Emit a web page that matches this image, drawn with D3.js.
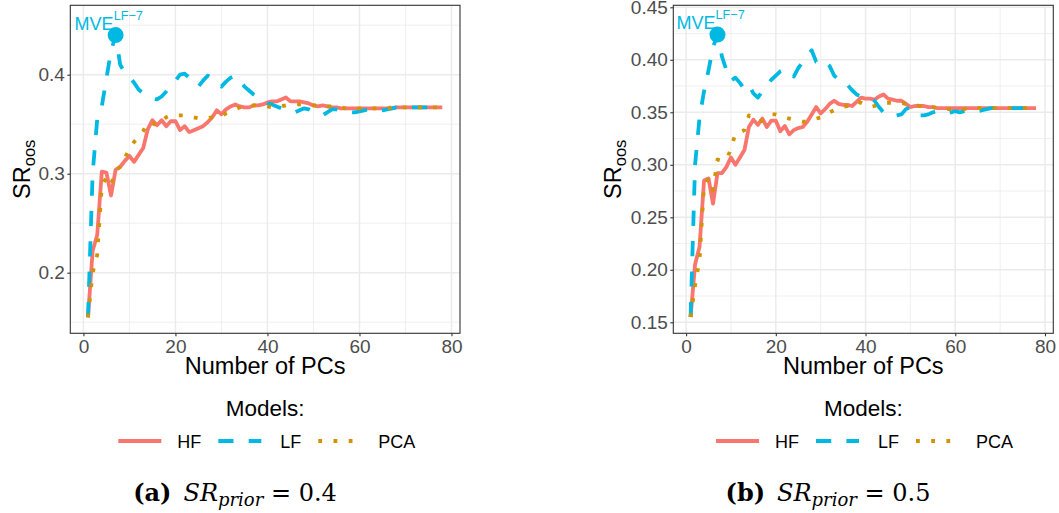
<!DOCTYPE html>
<html>
<head>
<meta charset="utf-8">
<script src="https://cdn.jsdelivr.net/npm/d3@7"></script>
<style>
  html, body { margin: 0; padding: 0; background: #ffffff; }
  svg { display: block; }
</style>
</head>
<body>
<svg id="fig" width="1059" height="513" font-family="Liberation Sans, Arial, Helvetica, sans-serif"></svg>
<script>
// Number of principal components on the x axis
const pcs = d3.range(1, 79);

// Out-of-sample Sharpe ratios, SR_prior = 0.4
const hfA = [0.155,0.222,0.238,0.302,0.301,0.278,0.304,0.307,0.313,0.318,
  0.312,0.319,0.326,0.345,0.354,0.349,0.354,0.348,0.353,0.353,
  0.344,0.348,0.342,0.344,0.346,0.348,0.352,0.357,0.364,0.360,
  0.365,0.368,0.370,0.368,0.367,0.367,0.369,0.369,0.370,0.372,
  0.373,0.373,0.375,0.377,0.373,0.373,0.373,0.372,0.371,0.369,
  0.368,0.369,0.368,0.367,0.367,0.366,0.366,0.366,0.366,0.366,
  0.366,0.366,0.366,0.366,0.366,0.366,0.366,0.367,0.367,0.367,
  0.367,0.367,0.367,0.367,0.367,0.367,0.367,0.367];
const lfA = [0.155,0.300,0.355,0.368,0.396,0.424,0.440,0.410,0.402,0.398,
  0.392,0.385,0.381,0.378,0.376,0.375,0.378,0.383,0.389,0.394,
  0.400,0.401,0.397,0.392,0.388,0.394,0.399,0.396,0.391,0.388,
  0.393,0.397,0.399,0.394,0.388,0.384,0.380,0.377,0.373,0.371,
  0.370,0.368,0.366,0.364,0.363,0.362,0.364,0.366,0.365,0.363,
  0.361,0.359,0.362,0.365,0.365,0.364,0.362,0.362,0.362,0.363,
  0.364,0.365,0.364,0.363,0.364,0.365,0.366,0.367,0.367,0.367,
  0.367,0.367,0.367,0.367,0.367,0.367,0.367,0.367];
const pcaA = [0.155,0.200,0.218,0.288,0.296,0.289,0.303,0.307,0.316,0.325,
  0.332,0.337,0.343,0.352,0.351,0.349,0.353,0.357,0.359,0.359,
  0.359,0.359,0.358,0.357,0.356,0.356,0.356,0.357,0.358,0.358,
  0.361,0.363,0.365,0.367,0.368,0.368,0.369,0.369,0.369,0.368,
  0.367,0.367,0.368,0.369,0.370,0.370,0.370,0.370,0.370,0.369,
  0.369,0.369,0.368,0.368,0.368,0.367,0.366,0.365,0.365,0.366,
  0.366,0.366,0.366,0.366,0.366,0.366,0.367,0.367,0.367,0.367,
  0.367,0.367,0.367,0.367,0.367,0.367,0.367,0.367];

// Out-of-sample Sharpe ratios, SR_prior = 0.5
const hfB = [0.155,0.205,0.222,0.285,0.287,0.263,0.292,0.292,0.298,0.307,
  0.300,0.307,0.314,0.336,0.343,0.338,0.344,0.336,0.342,0.342,
  0.332,0.337,0.329,0.333,0.335,0.336,0.341,0.348,0.355,0.349,
  0.353,0.358,0.361,0.358,0.357,0.357,0.356,0.360,0.364,0.363,
  0.363,0.362,0.365,0.367,0.363,0.362,0.361,0.361,0.358,0.355,
  0.356,0.356,0.356,0.355,0.355,0.354,0.354,0.354,0.354,0.354,
  0.354,0.354,0.354,0.354,0.354,0.354,0.354,0.354,0.354,0.354,
  0.354,0.354,0.354,0.354,0.354,0.354,0.354,0.354];
const lfB = [0.155,0.300,0.345,0.370,0.390,0.412,0.424,0.403,0.390,0.380,
  0.383,0.378,0.372,0.376,0.368,0.364,0.370,0.376,0.381,0.385,
  0.389,0.391,0.389,0.384,0.392,0.398,0.405,0.409,0.398,0.395,
  0.398,0.394,0.385,0.381,0.381,0.376,0.371,0.367,0.365,0.365,
  0.364,0.361,0.355,0.350,0.347,0.346,0.347,0.348,0.353,0.355,
  0.350,0.347,0.347,0.348,0.350,0.351,0.351,0.349,0.350,0.351,
  0.350,0.351,0.352,0.352,0.351,0.352,0.353,0.354,0.354,0.354,
  0.354,0.354,0.354,0.354,0.354,0.354,0.354,0.354];
const pcaB = [0.155,0.185,0.210,0.280,0.287,0.276,0.305,0.304,0.305,0.315,
  0.330,0.331,0.333,0.347,0.344,0.341,0.342,0.345,0.348,0.348,
  0.347,0.345,0.344,0.343,0.342,0.341,0.341,0.342,0.344,0.345,
  0.347,0.350,0.352,0.354,0.355,0.356,0.358,0.360,0.359,0.357,
  0.355,0.356,0.358,0.359,0.359,0.359,0.359,0.359,0.358,0.357,
  0.357,0.356,0.356,0.355,0.355,0.354,0.353,0.353,0.353,0.353,
  0.353,0.353,0.354,0.354,0.354,0.354,0.354,0.354,0.354,0.354,
  0.354,0.354,0.354,0.354,0.354,0.354,0.354,0.354];

// Model names and the highlighted LF portfolio
const models = ["HF", "LF", "PCA"];
const mveK = 7;

// Axis ticks
const xTicks = [0, 20, 40, 60, 80];
const xMinor = [10, 30, 50, 70];
const yTicksA = [0.2, 0.3, 0.4];
const yMinorA = [0.15, 0.25, 0.35, 0.45];
const yTicksB = [0.15, 0.20, 0.25, 0.30, 0.35, 0.40, 0.45];
const yMinorB = [0.175, 0.225, 0.275, 0.325, 0.375, 0.425];

// Styling
const colors = { HF: "#F8766D", LF: "#00B9E3", PCA: "#D39200" };
const LW = 3.8;
const dashes = { HF: null, LF: `${LW * 4},${LW * 4}`, PCA: `${LW},${LW * 3}` };

const svg = d3.select("#fig");
svg.append("rect").attr("width", 1059).attr("height", 513).attr("fill", "#fff");

function drawPanel(cfg) {
  const g = svg.append("g");
  const x = d3.scaleLinear().domain([1 - 3.85, 78 + 3.85]).range([cfg.left, cfg.right]);
  const y = d3.scaleLinear().domain(cfg.yDomain).range([cfg.bottom, cfg.top]);

  // grid
  const grid = g.append("g");
  grid.selectAll(".ymin").data(cfg.yMinor).join("line")
    .attr("x1", cfg.left).attr("x2", cfg.right)
    .attr("y1", d => y(d)).attr("y2", d => y(d))
    .attr("stroke", "#EBEBEB").attr("stroke-width", 0.8);
  grid.selectAll(".xmin").data(xMinor).join("line")
    .attr("y1", cfg.top).attr("y2", cfg.bottom)
    .attr("x1", d => x(d)).attr("x2", d => x(d))
    .attr("stroke", "#EBEBEB").attr("stroke-width", 0.8);
  grid.selectAll(".ymaj").data(cfg.yTicks).join("line")
    .attr("x1", cfg.left).attr("x2", cfg.right)
    .attr("y1", d => y(d)).attr("y2", d => y(d))
    .attr("stroke", "#EBEBEB").attr("stroke-width", 1.5);
  grid.selectAll(".xmaj").data(xTicks).join("line")
    .attr("y1", cfg.top).attr("y2", cfg.bottom)
    .attr("x1", d => x(d)).attr("x2", d => x(d))
    .attr("stroke", "#EBEBEB").attr("stroke-width", 1.5);

  // series
  const clipId = "clip" + cfg.id;
  svg.append("clipPath").attr("id", clipId).append("rect")
    .attr("x", cfg.left).attr("y", cfg.top)
    .attr("width", cfg.right - cfg.left).attr("height", cfg.bottom - cfg.top);
  const line = d3.line().x((d, i) => x(pcs[i])).y(d => y(d));
  const series = g.append("g").attr("clip-path", `url(#${clipId})`);
  models.forEach(m => {
    series.append("path")
      .attr("d", line(cfg.data[m]))
      .attr("fill", "none")
      .attr("stroke", colors[m])
      .attr("stroke-width", LW)
      .attr("stroke-linejoin", "round")
      .attr("stroke-linecap", "butt")
      .attr("stroke-dasharray", dashes[m]);
  });

  // highlighted portfolio
  const mx = x(mveK), my = y(cfg.data.LF[mveK - 1]);
  series.append("circle").attr("cx", mx).attr("cy", my).attr("r", 8)
    .attr("fill", colors.LF);
  const lab = g.append("text").attr("x", mx - 41).attr("y", my - 5.5)
    .attr("fill", colors.LF).attr("font-size", 18);
  lab.append("tspan").text("MVE");
  lab.append("tspan").attr("dy", -10).attr("font-size", 12.7).text("LF\u22127");

  // border
  g.append("rect").attr("x", cfg.left).attr("y", cfg.top)
    .attr("width", cfg.right - cfg.left).attr("height", cfg.bottom - cfg.top)
    .attr("fill", "none").attr("stroke", "#333333").attr("stroke-width", 1.1);

  // axes
  const xAxis = d3.axisBottom(x).tickValues(xTicks).tickSize(3).tickPadding(3.5)
    .tickFormat(d3.format("d"));
  const gx = g.append("g").attr("transform", `translate(0,${cfg.bottom})`).call(xAxis);
  const yAxis = d3.axisLeft(y).tickValues(cfg.yTicks).tickSize(3).tickPadding(2.5)
    .tickFormat(d3.format(cfg.yFmt));
  const gy = g.append("g").attr("transform", `translate(${cfg.left},0)`).call(yAxis);
  [gx, gy].forEach(a => {
    a.attr("font-family", "Liberation Sans, Arial, sans-serif").attr("font-size", 19);
    a.select(".domain").remove();
    a.selectAll(".tick line").attr("stroke", "#333333").attr("stroke-width", 1.1);
    a.selectAll(".tick text").attr("fill", "#4D4D4D");
  });

  // axis titles
  const cx = (cfg.left + cfg.right) / 2;
  g.append("text").attr("x", cx).attr("y", 374).attr("text-anchor", "middle")
    .attr("font-size", 23.5).attr("fill", "#000").text("Number of PCs");
  const yt = g.append("text")
    .attr("transform", `translate(${cfg.yTitleX},${(cfg.top + cfg.bottom) / 2}) rotate(-90)`)
    .attr("text-anchor", "middle").attr("font-size", 23.5).attr("fill", "#000");
  yt.append("tspan").text("SR");
  yt.append("tspan").attr("dy", 5).attr("font-size", 16.5).text("oos");

  // legend
  g.append("text").attr("x", cx).attr("y", 416).attr("text-anchor", "middle")
    .attr("font-size", 22.5).attr("fill", "#000").text("Models:");
  const lx = cfg.legendX;
  const keyOff = [0, 100, 200], txtOff = [59, 162, 260];
  models.forEach((m, i) => {
    g.append("line")
      .attr("x1", lx + keyOff[i]).attr("x2", lx + keyOff[i] + 43)
      .attr("y1", 441).attr("y2", 441)
      .attr("stroke", colors[m]).attr("stroke-width", LW)
      .attr("stroke-dasharray", dashes[m]);
    g.append("text").attr("x", lx + txtOff[i]).attr("y", 448.3)
      .attr("font-size", 18).attr("fill", "#000").text(m);
  });

  // sub-caption
  const cap = g.append("text").attr("x", cfg.capX).attr("y", 501)
    .attr("text-anchor", "middle").attr("fill", "#000")
    .attr("font-family", "DejaVu Serif, serif").attr("font-size", 24);
  cap.append("tspan").attr("font-weight", "bold").text(cfg.tag);
  cap.append("tspan").text("\u2002");
  cap.append("tspan").attr("font-style", "italic").text("SR");
  cap.append("tspan").attr("font-style", "italic").attr("font-size", 18)
    .attr("dy", 5).text("prior");
  cap.append("tspan").attr("dy", -5).text(" = " + cfg.prior);
}

drawPanel({
  id: "a", left: 70.3, right: 460, top: 5.3, bottom: 333.3,
  yDomain: [0.1388, 0.4701], yTicks: yTicksA, yMinor: yMinorA, yFmt: ".1f",
  data: { HF: hfA, LF: lfA, PCA: pcaA },
  yTitleX: 30, legendX: 118.3, capX: 235, tag: "(a)", prior: "0.4"
});
drawPanel({
  id: "b", left: 673.3, right: 1053.3, top: 5.3, bottom: 333.3,
  yDomain: [0.1395, 0.4519], yTicks: yTicksB, yMinor: yMinorB, yFmt: ".2f",
  data: { HF: hfB, LF: lfB, PCA: pcaB },
  yTitleX: 621, legendX: 716, capX: 828, tag: "(b)", prior: "0.5"
});
</script>
</body>
</html>
